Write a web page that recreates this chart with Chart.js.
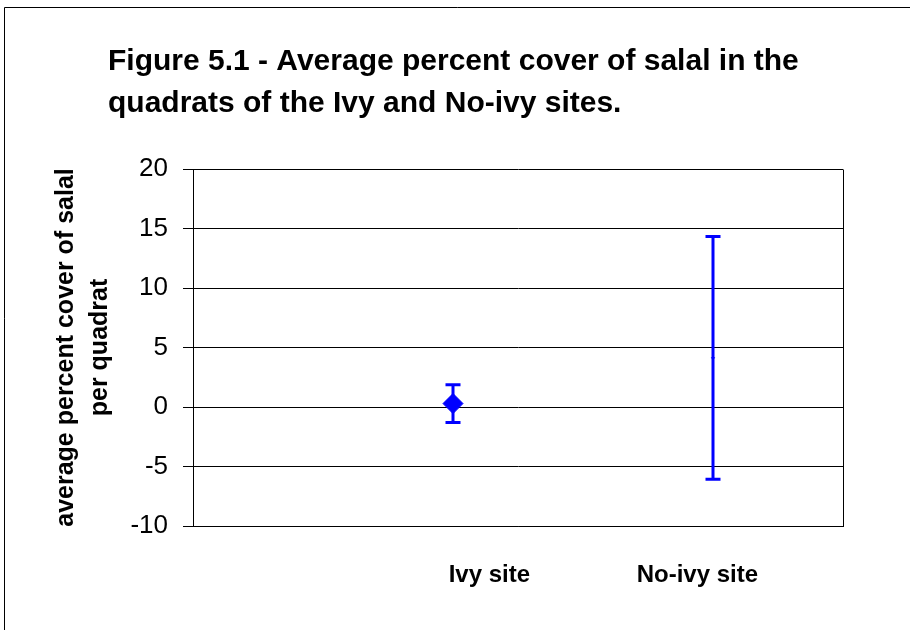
<!DOCTYPE html>
<html>
<head>
<meta charset="utf-8">
<script src="https://cdn.jsdelivr.net/npm/chart.js@4/dist/chart.umd.min.js"></script>
<style>
  html, body { margin: 0; padding: 0; background: #fff; }
  #wrap { width: 910px; height: 630px; position: relative; }
</style>
</head>
<body>
<div id="wrap"><canvas id="c" width="910" height="630"></canvas></div>
<script>
// ---- data ----
const titleLines = ['Figure 5.1 - Average percent cover of salal in the', 'quadrats of the Ivy and No-ivy sites.'];
const yAxisTitle = ['average percent cover of salal', 'per quadrat'];
const categories = ['Ivy site', 'No-ivy site'];
const xPositions = [1, 2];
const means = [0.29, 4.13];
const errors = [1.59, 10.2];
const categoryLabelPositions = [1.14, 1.94];
const yTicks = [-10, -5, 0, 5, 10, 15, 20];

const FONT = '"Liberation Sans", Arial, sans-serif';

const framePlugin = {
  id: 'frame',
  beforeDraw(chart) {
    const ctx = chart.ctx;
    ctx.save();
    ctx.fillStyle = '#fff';
    ctx.fillRect(0, 0, chart.width, chart.height);
    ctx.strokeStyle = '#000';
    ctx.lineWidth = 1;
    ctx.beginPath();
    ctx.moveTo(4.5, chart.height);
    ctx.lineTo(4.5, 7.5);
    ctx.lineTo(chart.width, 7.5);
    ctx.stroke();
    // title
    ctx.fillStyle = '#000';
    ctx.font = 'bold 30px ' + FONT;
    ctx.textAlign = 'left';
    ctx.textBaseline = 'alphabetic';
    ctx.fillText(titleLines[0], 108, 70);
    ctx.fillText(titleLines[1], 108, 112);
    ctx.restore();
  },
  afterDraw(chart) {
    const ctx = chart.ctx;
    const a = chart.chartArea;
    ctx.save();
    ctx.strokeStyle = '#000';
    ctx.lineWidth = 1;
    const xr = Math.round(a.right) + 0.5;
    ctx.beginPath();
    ctx.moveTo(xr, Math.round(a.top) + 0.5);
    ctx.lineTo(xr, Math.round(a.bottom) + 0.5);
    ctx.stroke();
    ctx.restore();
  }
};

const errorBarPlugin = {
  id: 'errorBars',
  beforeDatasetsDraw(chart) {
    const ctx = chart.ctx;
    const xs = chart.scales.x, ys = chart.scales.y;
    ctx.save();
    ctx.strokeStyle = '#0000FF';
    ctx.lineWidth = 3;
    ctx.lineCap = 'butt';
    for (let i = 0; i < means.length; i++) {
      const px = xs.getPixelForValue(xPositions[i]);
      const top = ys.getPixelForValue(means[i] + errors[i]);
      const bot = ys.getPixelForValue(means[i] - errors[i]);
      const half = 7.5;
      ctx.beginPath();
      ctx.moveTo(px, top); ctx.lineTo(px, bot);
      ctx.moveTo(px - half, top); ctx.lineTo(px + half, top);
      ctx.moveTo(px - half, bot); ctx.lineTo(px + half, bot);
      ctx.stroke();
    }
    ctx.restore();
  }
};

new Chart(document.getElementById('c'), {
  type: 'scatter',
  data: {
    datasets: [{
      data: xPositions.map((x, i) => ({ x: x, y: means[i] })),
      pointStyle: 'rectRot',
      pointRadius: [10, 1.5],
      pointHoverRadius: [10, 1.5],
      backgroundColor: '#0000FF',
      borderColor: '#0000FF',
      borderWidth: 1
    }]
  },
  options: {
    responsive: false,
    animation: false,
    events: [],
    layout: { padding: { top: 169, right: 67, left: 0, bottom: 0 } },
    plugins: {
      legend: { display: false },
      title: { display: false },
      tooltip: { enabled: false }
    },
    scales: {
      x: {
        type: 'linear',
        min: 0,
        max: 2.5,
        afterFit(scale) { scale.height = 104; },
        afterBuildTicks(scale) {
          scale.ticks = categoryLabelPositions.map(v => ({ value: v }));
        },
        grid: { display: false, drawTicks: false },
        border: { display: true, color: '#000', width: 1 },
        ticks: {
          autoSkip: false,
          maxRotation: 0,
          padding: 35,
          color: '#000',
          font: { family: FONT, size: 24, weight: 'bold' },
          callback: (v, i) => categories[i]
        }
      },
      y: {
        min: -10,
        max: 20,
        afterFit(scale) { scale.width = 193; },
        afterBuildTicks(scale) {
          scale.ticks = yTicks.map(v => ({ value: v }));
        },
        grid: { color: '#000', lineWidth: 1, tickLength: 10, drawTicks: true },
        border: { display: true, color: '#000', width: 1 },
        ticks: {
          padding: 15,
          color: '#000',
          font: { family: FONT, size: 26 }
        },
        title: {
          display: true,
          text: yAxisTitle,
          color: '#000',
          font: { family: FONT, size: 25, weight: 'bold', lineHeight: 1.36 },
          padding: { top: 49, bottom: 0 }
        }
      }
    }
  },
  plugins: [framePlugin, errorBarPlugin]
});
</script>
</body>
</html>
